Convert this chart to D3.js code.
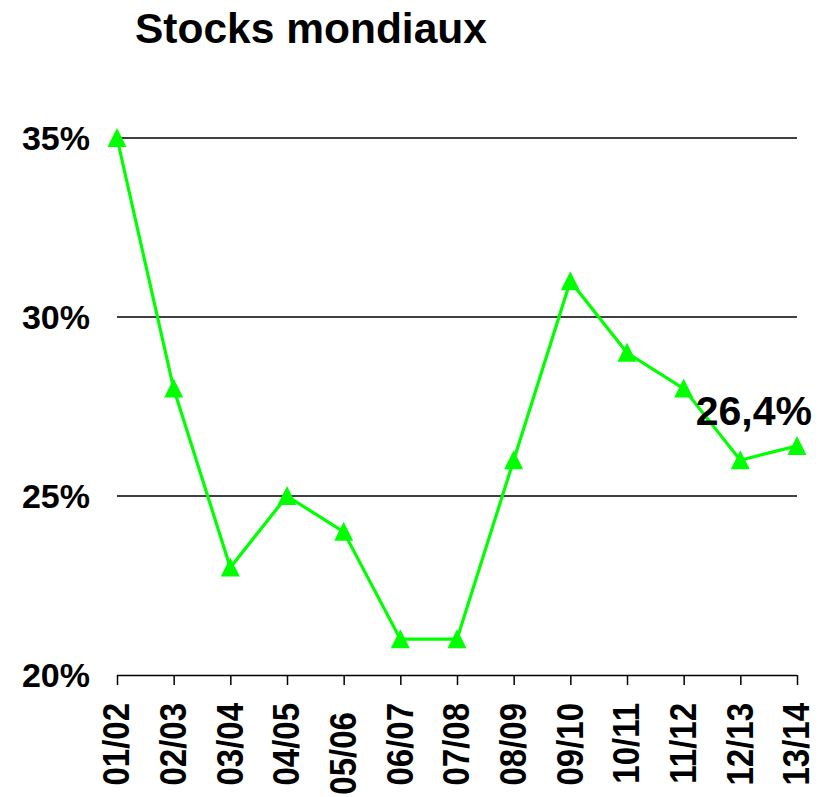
<!DOCTYPE html>
<html><head><meta charset="utf-8">
<script src="https://cdn.jsdelivr.net/npm/d3@7/dist/d3.min.js"></script>
<style>body{margin:0;background:#fff}svg{display:block}</style>
</head><body>
<script>
const categories = ["01/02","02/03","03/04","04/05","05/06 ","06/07","07/08","08/09","09/10","10/11","11/12","12/13","13/14"];
const values = [35,28,23,25,24,21,21,26,31,29,28,26,26.4];
const yTicks = [20,25,30,35];
const title = "Stocks mondiaux";
const lastLabel = "26,4%";

const W=829,H=797;
const svg=d3.select("body").append("svg").attr("width",W).attr("height",H);
const x=d3.scalePoint().domain(categories).range([117,797]);
const y=d3.scaleLinear().domain([20,35]).range([675,138]);
const font="Liberation Sans, Arial, Helvetica, sans-serif";

svg.append("text").attr("x",135).attr("y",43).attr("font-family",font).attr("font-weight","bold").attr("font-size",42.5).text(title);

// gridlines
svg.selectAll("line.grid").data(yTicks.filter(d=>d>20)).enter().append("line")
 .attr("x1",117).attr("x2",797).attr("y1",d=>y(d)).attr("y2",d=>y(d)).attr("stroke","#000").attr("stroke-width",1.3);

// y labels
svg.selectAll("text.yl").data(yTicks).enter().append("text")
 .attr("x",90).attr("y",d=>y(d)+12).attr("text-anchor","end").attr("font-family",font).attr("font-weight","bold").attr("font-size",34)
 .text(d=>d+"%");

// x axis
const xa=svg.append("g").attr("transform","translate(0,675)")
 .call(d3.axisBottom(x).tickSize(10).tickSizeOuter(0).tickPadding(0).tickFormat(d=>d.replace(/ /g,"\u00a0")));
xa.select(".domain").attr("stroke","#000").attr("stroke-width",1.5).attr("d","M117,0.5H797");
xa.selectAll(".tick line").attr("stroke","#000").attr("stroke-width",1.5);
xa.selectAll(".tick text").attr("font-family",font).attr("font-weight","bold").attr("font-size",33).attr("fill","#000")
 .attr("transform","rotate(-90) scale(1,1.12)").attr("text-anchor","end").attr("x",-28).attr("y",-1).attr("dy","0.35em");

// line
const line=d3.line().x((d,i)=>x(categories[i])).y(d=>y(d));
svg.append("path").datum(values).attr("d",line).attr("fill","none").attr("stroke","#00ff00").attr("stroke-width",3.2);
const triangle={draw(ctx){ctx.moveTo(0,-10);ctx.lineTo(9.5,9);ctx.lineTo(-9.5,9);ctx.closePath();}};
const tri=d3.symbol().type(triangle);
svg.selectAll("path.m").data(values).enter().append("path")
 .attr("d",tri).attr("transform",(d,i)=>`translate(${x(categories[i])},${y(d)})`).attr("fill","#00ff00");

svg.append("text").attr("x",812).attr("y",425).attr("text-anchor","end").attr("font-family",font).attr("font-weight","bold").attr("font-size",41).text(lastLabel);
</script>
</body></html>
